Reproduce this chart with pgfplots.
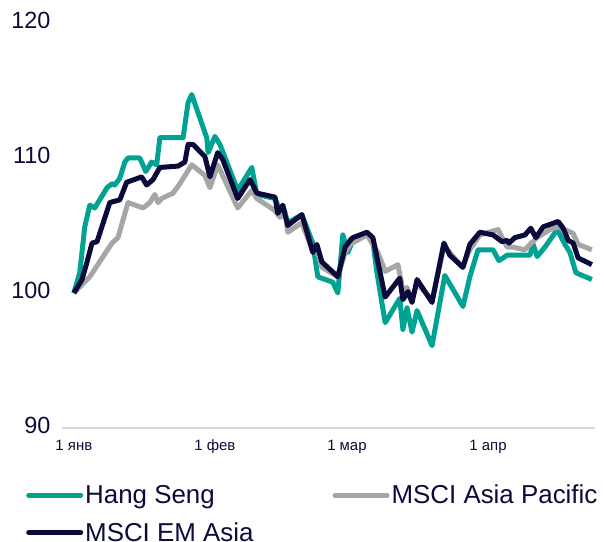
\documentclass[border=0pt]{standalone}
\usepackage{pgfplots}
\pgfplotsset{compat=1.18}
\usepackage{fontspec}
\setmainfont{Liberation Sans}
\definecolor{hsteal}{HTML}{00A393}
\definecolor{apgray}{HTML}{A6A6A6}
\definecolor{emnavy}{HTML}{0B0B3B}
\definecolor{axgray}{HTML}{D9D9D9}
\begin{document}
\begin{tikzpicture}
    \useasboundingbox (-62bp,-114bp) rectangle (542bp,428bp);
    \begin{axis}[
        scale only axis,
        width=533bp, height=405bp,
        xmin=-2.6, xmax=114.5,
        ymin=90, ymax=120,
        axis x line*=bottom,
        axis y line*=left,
        x axis line style={axgray, line width=1.2bp, -},
        y axis line style={draw=none},
        major tick length=0pt,
        xtick={0,31,60,91},
        xticklabels={1 янв,1 фев,1 мар,1 апр},
        ytick={90,100,110,120},
        typeset ticklabels with strut,
        every tick label/.append style={text=emnavy},
        xticklabel style={font=\fontsize{15}{17}\selectfont, yshift=-7bp},
        yticklabel style={font=\fontsize{23.5}{26}\selectfont, xshift=-8bp},
        /pgf/number format/assume math mode=true,
        clip=false,
        legend columns=2,
        legend cell align=left,
        legend style={draw=none, fill=none, at={(axis description cs:0,0)}, anchor=north west,
            xshift=-36bp, yshift=-55bp,
            font=\fontsize{26}{28}\selectfont, text=emnavy,
            /tikz/every even column/.append style={column sep=77bp},
            row sep=13bp, inner sep=0pt},
        legend image code/.code={\draw[#1, line width=5bp, line cap=round] (0bp,0bp) -- (52bp,0bp);},
        every axis plot/.append style={line width=5bp, line join=round, mark=none},
        ]
    % Hang Seng
    \addplot[hsteal] coordinates {
        (0,100) (1.3,101.5) (2.4,104.9) (3.5,106.5) (4.6,106.3) (7.3,107.8)
        (8.4,108.1) (9.0,108.0) (10.1,108.5) (11.2,109.7) (11.9,110.0) (14.5,110.0)
        (15.8,109.0) (17.1,109.7) (18.2,109.5) (18.9,111.5) (24.0,111.5) (25.1,114.1)
        (25.9,114.7) (29.2,111.5) (29.5,110.4) (31.0,111.6) (32.1,111.0) (36.0,107.6)
        (39.1,109.3) (40.2,107.3) (44.2,107.0) (45.3,106.1) (45.9,106.5) (47.0,105.2)
        (50.1,105.8) (52.5,103.7) (53.6,101.2) (56.9,100.8) (58.0,100.0) (59.1,104.3)
        (60.2,103.0) (61.3,103.9) (64.4,104.4) (65.7,103.8) (66.6,101.5) (68.4,97.8)
        (71.6,99.6) (72.3,97.3) (73.2,98.9) (74.3,97.1) (75.4,98.7) (78.7,96.1)
        (81.5,101.3) (85.5,99.0) (87.0,101.2) (88.8,103.2) (92.1,103.2) (93.4,102.4)
        (95.2,102.8) (100.2,102.8) (100.9,103.6) (101.8,102.7) (103.5,103.4) (106.2,104.7)
        (107.9,103.6) (109.0,103.0) (110.3,101.5) (113.8,101.0)
    };
    \addlegendentry{Hang Seng}
    % MSCI Asia Pacific
    \addplot[apgray] coordinates {
        (0,100) (3.5,101.2) (8.4,103.7) (9.7,104.1) (11.9,106.7) (15.2,106.3)
        (16.7,106.7) (17.8,107.3) (18.5,106.7) (19.3,107.0) (21.8,107.4) (23.3,108.1)
        (25.9,109.5) (28.8,108.7) (29.9,107.8) (31.6,109.5) (36.0,106.3) (39.1,107.6)
        (40.2,107.0) (44.2,106.1) (45.3,105.6) (46.4,106.0) (47.0,104.5) (50.1,105.2)
        (52.3,103.3) (53.4,103.2) (54.5,101.9) (58.0,101.2) (59.6,103.0) (60.7,103.6)
        (64.4,104.3) (66.8,103.0) (68.4,101.6) (71.2,102.1) (72.3,100.2) (73.2,100.4)
        (74.3,99.5) (75.4,100.7) (78.7,99.5) (81.3,103.4) (82.6,103.0) (85.3,101.9)
        (87.0,103.2) (89.2,104.3) (93.2,104.7) (95.2,103.4) (96.5,103.4) (99.1,103.2)
        (100.2,103.6) (101.8,104.1) (104.6,104.7) (106.4,104.9) (107.9,104.7) (109.7,104.4)
        (110.8,103.6) (113.8,103.2)
    };
    \addlegendentry{MSCI Asia Pacific}
    % MSCI EM Asia
    \addplot[emnavy] coordinates {
        (0,100) (1.8,101.0) (2.9,102.3) (4.0,103.7) (5.1,103.8) (7.9,106.7)
        (10.1,106.9) (11.6,108.2) (14.9,108.6) (16.0,108.0) (17.4,108.4) (18.9,109.3)
        (22.9,109.4) (24.4,109.7) (25.1,111.0) (26.2,111.0) (28.8,110.1) (29.9,108.6)
        (31.6,110.4) (32.7,109.9) (36.0,107.0) (38.7,108.4) (40.2,107.4) (44.2,107.1)
        (44.8,105.9) (45.9,106.5) (47.0,105.0) (50.1,105.8) (51.4,104.3) (52.5,103.0)
        (53.4,103.6) (54.5,102.3) (58.0,101.2) (59.6,103.4) (60.7,103.9) (61.3,104.1)
        (64.4,104.5) (65.7,104.1) (68.4,99.7) (71.6,101.1) (72.3,99.5) (73.4,100.1)
        (74.3,99.3) (75.4,101.0) (78.7,99.3) (81.3,103.7) (82.6,102.8) (85.5,101.9)
        (87.0,103.6) (89.2,104.5) (92.1,104.3) (94.1,103.8) (95.2,103.9) (95.6,103.7)
        (96.9,104.1) (99.1,104.3) (100.4,104.8) (101.5,104.1) (103.1,104.9) (106.4,105.3)
        (107.5,104.8) (108.6,103.9) (109.7,103.7) (110.8,102.6) (113.8,102.1)
    };
    \addlegendentry{MSCI EM Asia}
    \end{axis}
\end{tikzpicture}
\end{document}
